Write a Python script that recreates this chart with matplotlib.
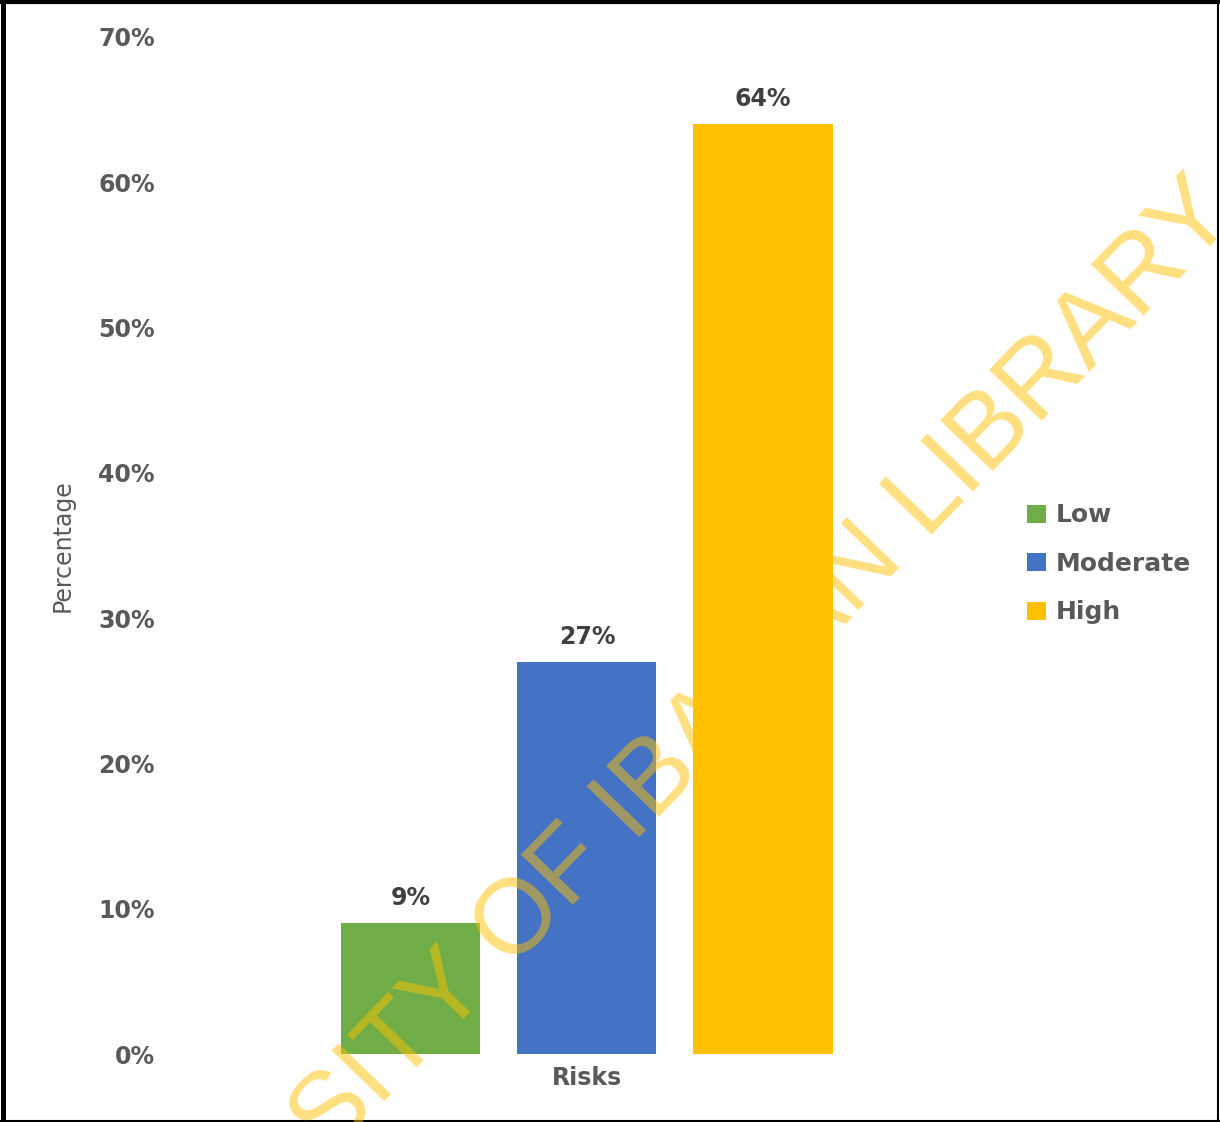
import matplotlib
matplotlib.use("Agg")
import matplotlib.pyplot as plt
from matplotlib.patches import Patch
from matplotlib.lines import Line2D

# risk level shares
levels = ["Low", "Moderate", "High"]
shares = [9, 27, 64]
colors = ["#70AD47", "#4472C4", "#FFC000"]
yticks = [0, 10, 20, 30, 40, 50, 60, 70]

W, H = 1220, 1122
fig = plt.figure(figsize=(W / 100, H / 100), dpi=100)
ax = fig.add_axes([170 / W, 68 / H, 835 / W, 1017 / H])

xs = list(range(len(levels)))
bars = ax.bar(xs, shares, width=0.79, color=colors, zorder=2)

for x, v in zip(xs, shares):
    ax.text(x, v + 0.9, f"{v}%", ha="center", va="bottom",
            fontsize=17, fontweight="bold", color="#404040")

ax.set_xlim(-1.369, 3.375)
ax.set_ylim(0, 70)
ax.set_yticks(yticks)
ax.set_yticklabels([f"{t}%" for t in yticks], fontsize=17,
                   fontweight="bold", color="#595959")
ax.tick_params(axis="y", length=0, pad=11)
ax.set_xticks([])
for s in ax.spines.values():
    s.set_visible(False)

fig.text(587 / W, 1 - 1078 / H, "Risks", ha="center", va="center",
         fontsize=17, fontweight="bold", color="#595959")
fig.text(63 / W, 1 - 546 / H, "Percentage", ha="center", va="center",
         rotation=90, fontsize=17, color="#595959")

handles = [Patch(facecolor=c, edgecolor="none") for c in colors]
leg = fig.legend(handles, levels, loc="center left",
                 bbox_to_anchor=(1022 / W, 1 - 564 / H), frameon=False,
                 handlelength=0.75, handleheight=0.75, handletextpad=0.4,
                 labelspacing=0.98, borderaxespad=0, borderpad=0.2,
                 prop={"size": 18, "weight": "bold"})
for t in leg.get_texts():
    t.set_color("#595959")

# watermark across the plot
fig.text(626 / W, 1 - 812 / H, "UNIVERSITY OF IBADAN LIBRARY",
         ha="center", va="center", rotation=46, rotation_mode="anchor",
         fontsize=76, family="Liberation Sans", color="#FFC000",
         alpha=0.5, zorder=5)

# outer frame
fig.add_artist(Line2D([2.5 / W, 2.5 / W], [0, 1], color="black", lw=3.6,
                      transform=fig.transFigure))
fig.add_artist(Line2D([0, 1], [1 - 2 / H, 1 - 2 / H], color="black", lw=3,
                      transform=fig.transFigure))
fig.add_artist(Line2D([1 - 2 / W, 1 - 2 / W], [0, 1], color="black", lw=1.5,
                      transform=fig.transFigure))
fig.add_artist(Line2D([0, 1], [1.5 / H, 1.5 / H], color="black", lw=1.5,
                      transform=fig.transFigure))

fig.savefig("out.png", dpi=100)
